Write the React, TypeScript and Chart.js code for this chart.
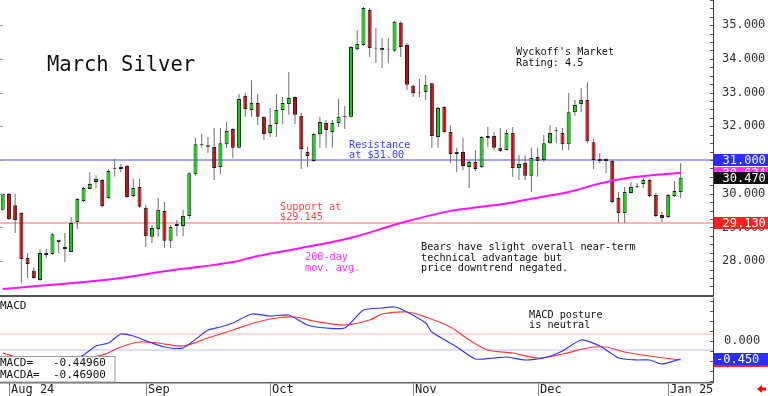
import React, { useEffect, useRef } from 'react';
import { Chart, registerables } from 'chart.js';

Chart.register(...registerables);

// ---------------- data ----------------
const candleOpen = [29.52, 29.99, 29.66, 29.43, 28.09, 27.71, 27.44, 28.24, 28.21, 28.57,
  28.42, 28.27, 29.16, 29.78, 30.14, 30.35, 30.41, 29.87, 30.76, 30.73,
  30.82, 29.93, 30.20, 29.58, 28.72, 28.95, 29.49, 28.60, 29.04, 29.04,
  29.34, 30.58, 31.47, 31.44, 31.39, 30.79, 31.47, 31.92, 31.36, 32.90,
  32.48, 32.69, 32.28, 31.80, 32.07, 32.48, 32.66, 32.87, 32.31, 31.24,
  30.97, 31.77, 32.10, 31.83, 32.10, 32.30, 32.28, 34.29, 34.41, 35.45,
  34.33, 34.26, 34.28, 34.24, 35.07, 34.41, 33.20, 32.98, 33.02, 33.28,
  31.68, 32.57, 31.83, 31.18, 31.24, 30.79, 30.94, 30.79, 31.65, 31.71,
  31.36, 31.30, 31.80, 30.76, 30.91, 30.53, 31.09, 31.00, 31.50, 31.85,
  31.80, 31.47, 32.42, 32.66, 32.78, 31.53, 30.97, 31.03, 30.97, 29.87,
  29.43, 30.02, 30.19, 30.29, 30.41, 29.96, 29.37, 29.31, 29.93, 30.05];
const candleHigh = [30.00, 30.02, 29.99, 29.45, 28.24, 27.82, 28.36, 28.36, 28.83, 28.63,
  28.83, 29.31, 29.87, 30.20, 30.64, 30.55, 30.43, 30.73, 31.03, 30.88,
  30.85, 30.44, 30.44, 29.67, 29.07, 29.87, 29.75, 29.07, 29.22, 29.52,
  30.64, 31.65, 31.77, 31.68, 31.95, 31.95, 32.13, 31.94, 32.96, 32.99,
  33.37, 32.96, 32.30, 32.54, 32.96, 32.87, 33.61, 32.89, 32.40, 31.39,
  31.80, 32.28, 32.19, 32.19, 32.81, 32.60, 34.38, 34.86, 35.54, 35.51,
  34.92, 34.62, 34.62, 35.13, 35.12, 34.47, 33.23, 33.40, 33.52, 33.30,
  32.57, 32.60, 32.04, 31.36, 31.65, 31.00, 31.30, 31.71, 31.98, 31.83,
  31.95, 31.89, 31.98, 31.15, 31.15, 31.36, 31.36, 31.74, 32.04, 31.98,
  31.95, 32.99, 32.78, 33.14, 33.31, 31.62, 31.21, 31.05, 31.00, 30.05,
  30.20, 30.35, 30.32, 30.47, 30.44, 30.02, 29.46, 29.99, 30.38, 30.91];
const candleLow = [29.50, 29.22, 28.83, 27.35, 27.50, 27.48, 27.41, 28.09, 28.18, 28.24,
  27.97, 28.27, 28.95, 29.75, 30.14, 30.17, 29.60, 29.85, 30.50, 30.64,
  29.87, 29.90, 29.58, 28.42, 28.54, 28.72, 28.39, 28.39, 28.74, 28.74,
  29.25, 30.55, 31.36, 31.21, 30.41, 30.58, 31.36, 31.06, 31.34, 32.28,
  32.28, 32.04, 31.59, 31.68, 31.68, 32.07, 32.34, 32.07, 30.73, 30.79,
  30.94, 31.36, 31.36, 31.36, 31.98, 31.92, 32.26, 34.26, 34.39, 34.06,
  33.88, 33.73, 33.88, 34.21, 34.06, 33.08, 32.87, 32.87, 32.78, 31.36,
  31.36, 31.80, 30.91, 30.64, 30.70, 30.17, 30.67, 30.76, 31.39, 31.30,
  31.24, 31.28, 30.50, 30.41, 30.41, 30.05, 30.50, 30.94, 31.47, 31.50,
  31.30, 31.30, 32.31, 32.42, 31.50, 30.73, 30.91, 30.61, 29.72, 29.13,
  29.13, 30.00, 30.17, 30.17, 29.90, 29.31, 29.16, 29.28, 29.90, 29.87];
const candleClose = [29.99, 29.25, 29.22, 28.06, 27.91, 27.50, 28.24, 28.18, 28.80, 28.63,
  28.36, 29.13, 29.84, 30.17, 30.29, 30.44, 29.63, 30.67, 30.74, 30.79,
  29.90, 30.17, 29.61, 28.74, 28.98, 29.52, 28.60, 29.01, 29.10, 29.34,
  30.61, 31.47, 31.44, 31.39, 30.76, 31.50, 31.86, 31.36, 32.81, 32.51,
  32.69, 32.28, 31.77, 32.04, 32.48, 32.69, 32.84, 32.34, 31.33, 31.12,
  31.77, 32.13, 31.89, 32.10, 32.28, 32.27, 34.35, 34.44, 35.51, 34.32,
  34.31, 34.32, 34.30, 35.10, 34.35, 33.23, 32.99, 33.00, 33.23, 31.71,
  32.54, 31.83, 31.18, 31.24, 30.82, 30.94, 30.73, 31.68, 31.71, 31.36,
  31.27, 31.80, 30.76, 30.88, 30.53, 31.06, 30.97, 31.50, 31.80, 31.88,
  31.47, 32.42, 32.63, 32.78, 31.56, 31.00, 31.03, 30.97, 29.75, 29.43,
  30.05, 30.20, 30.22, 30.41, 29.93, 29.34, 29.28, 29.96, 30.08, 30.47];

const resistanceLevel = 31.0;
const supportLevel = 29.13;

const maIdx = [0, 5, 10, 16, 21, 26, 32, 37, 41, 48, 56, 64, 72, 77, 82, 85, 91, 96, 101, 109];
const maVal = [27.17, 27.25, 27.33, 27.43, 27.55, 27.7, 27.84, 27.97, 28.15, 28.39, 28.69, 29.13, 29.49, 29.61, 29.74, 29.85, 30.05, 30.3, 30.48, 30.62];

const macdIdx = [0, 8, 13, 15, 17, 19, 21, 24, 26, 29, 33, 35, 37, 40, 43, 46, 49, 52, 55, 58, 61, 63, 65, 68, 69, 73, 76, 79, 81, 84, 87, 90, 93, 96, 99, 102, 104, 106, 109];
const macdVal = [-0.63, -0.72, -0.35, -0.125, -0.05, 0.175, 0.125, -0.05, -0.15, -0.175, 0.275, 0.35, 0.45, 0.675, 0.625, 0.65, 0.4, 0.325, 0.325, 0.775, 0.825, 0.85, 0.725, 0.45, 0.225, -0.15, -0.45, -0.425, -0.4, -0.475, -0.425, -0.25, 0.025, -0.125, -0.425, -0.475, -0.475, -0.575, -0.45];
const sigIdx = [0, 4, 9, 16, 19, 22, 25, 29, 33, 37, 41, 44, 47, 50, 55, 59, 61, 65, 68, 72, 75, 78, 82, 86, 90, 94, 97, 100, 104, 109];
const sigVal = [-0.3, -0.475, -0.525, -0.35, -0.15, -0.025, -0.05, -0.125, 0.075, 0.275, 0.475, 0.575, 0.6, 0.5, 0.4, 0.525, 0.675, 0.725, 0.6, 0.35, 0.025, -0.225, -0.3, -0.425, -0.325, -0.175, -0.15, -0.275, -0.375, -0.475];
const macdRefHigh = 0.175;
const macdRefLow = -0.225;

const priceTicks = [28, 29, 30, 31, 32, 33, 34, 35];
const macdTicks = [0];
const monthIdx = [1, 23, 43, 66, 86, 107];
const monthLabels = ['Aug 24', 'Sep', 'Oct', 'Nov', 'Dec', 'Jan 25'];

const lastClose = 30.47;
const lastMA = 30.624;
const macdLast = -0.4496;
const macdaLast = -0.469;

// ---------------- layout ----------------
const X_MIN = -0.434;
const X_MAX = 114.2;
const MONO = '"DejaVu Sans Mono", monospace';

function txt(ctx: CanvasRenderingContext2D, s: string, x: number, y: number, size: number, color: string) {
  ctx.font = `${size}px ${MONO}`;
  ctx.fillStyle = color;
  ctx.textAlign = 'left';
  ctx.textBaseline = 'alphabetic';
  ctx.fillText(s, x, y);
}

function valueBox(ctx: CanvasRenderingContext2D, py: number, label: string, bg: string, tx: number, hExtra = 0) {
  ctx.fillStyle = bg;
  ctx.fillRect(714, Math.round(py) - 6, 54, 12 + hExtra);
  ctx.font = `12px ${MONO}`;
  ctx.fillStyle = '#ffffff';
  ctx.textAlign = 'left';
  ctx.textBaseline = 'middle';
  ctx.fillText(label, tx, Math.round(py) + 0.5);
}

function fixAxis(s: any) {
  s.width = 55;
  s.paddingTop = 0;
  s.paddingBottom = 0;
  s.paddingLeft = 0;
  s.paddingRight = 0;
}

const mainPlugin = {
  id: 'mainDecor',
  afterDraw(chart: any) {
    const { ctx, chartArea } = chart;
    const y = chart.scales.y;
    ctx.save();
    // left edge ticks
    ctx.strokeStyle = '#999';
    ctx.lineWidth = 1;
    ctx.beginPath();
    for (const v of priceTicks) {
      const py = Math.round(y.getPixelForValue(v)) + 0.5;
      ctx.moveTo(0, py);
      ctx.lineTo(3, py);
    }
    ctx.stroke();
    // right axis minor ticks
    ctx.strokeStyle = '#555';
    ctx.beginPath();
    for (let k = 108; k <= 143; k++) {
      const v = k / 4;
      const py = Math.round(y.getPixelForValue(v)) + 0.5;
      ctx.moveTo(chartArea.right - 3, py);
      ctx.lineTo(chartArea.right, py);
    }
    ctx.stroke();

    // annotations
    txt(ctx, 'March Silver', 47, 70.5, 20.5, '#111');
    txt(ctx, "Wyckoff's Market", 516, 55, 10.2, '#111');
    txt(ctx, 'Rating: 4.5', 516, 65.5, 10.2, '#111');
    txt(ctx, 'Resistance', 349, 147.5, 10.2, '#3a3aff');
    txt(ctx, 'at $31.00', 349, 157.5, 10.2, '#3a3aff');
    txt(ctx, 'Support at', 280, 210, 10.2, '#ff4040');
    txt(ctx, '$29.145', 280, 220, 10.2, '#ff4040');
    txt(ctx, '200-day', 305, 260, 10.2, '#ff30ff');
    txt(ctx, 'mov. avg.', 305, 270.5, 10.2, '#ff30ff');
    txt(ctx, 'Bears have slight overall near-term', 421, 250, 10.2, '#111');
    txt(ctx, 'technical advantage but', 421, 260.5, 10.2, '#111');
    txt(ctx, 'price downtrend negated.', 421, 271, 10.2, '#111');

    // separator
    ctx.fillStyle = '#505050';
    ctx.fillRect(0, chartArea.bottom - 1, chartArea.right + 1, 2);

    // value boxes on axis
    valueBox(ctx, y.getPixelForValue(lastMA), lastMA.toFixed(3), '#ff33ff', 722.5);
    valueBox(ctx, y.getPixelForValue(lastClose), lastClose.toFixed(3), '#111111', 722.5);
    valueBox(ctx, y.getPixelForValue(resistanceLevel), resistanceLevel.toFixed(3), '#2d2dff', 722.5);
    valueBox(ctx, y.getPixelForValue(supportLevel), supportLevel.toFixed(3), '#ff2020', 722.5);
    ctx.restore();
  },
};

const macdPlugin = {
  id: 'macdDecor',
  afterDraw(chart: any) {
    const { ctx, chartArea } = chart;
    const y = chart.scales.y;
    const x = chart.scales.x;
    ctx.save();
    // right axis minor ticks
    ctx.strokeStyle = '#555';
    ctx.lineWidth = 1;
    ctx.beginPath();
    for (let k = -4; k <= 4; k++) {
      const py = Math.round(y.getPixelForValue(k / 4)) + 0.5;
      ctx.moveTo(chartArea.right - 3, py);
      ctx.lineTo(chartArea.right, py);
    }
    ctx.stroke();

    // bottom line
    ctx.fillStyle = '#666';
    ctx.fillRect(0, chartArea.bottom, chartArea.right + 1, 1.5);

    // labels
    txt(ctx, 'MACD', 0, 11.5, 11, '#111');
    txt(ctx, 'MACD posture', 529, 21, 10.2, '#111');
    txt(ctx, 'is neutral', 529, 31, 10.2, '#111');

    // value box
    ctx.fillStyle = '#ffffff';
    ctx.fillRect(0, 59, 115, chartArea.bottom - 59);
    ctx.strokeStyle = '#9a9a9a';
    ctx.strokeRect(-0.5, 59.5, 115.5, chartArea.bottom - 59.5);
    txt(ctx, 'MACD=   ' + macdLast.toFixed(5), 0, 69, 11, '#111');
    txt(ctx, 'MACDA=  ' + macdaLast.toFixed(5), 0, 80.5, 11, '#111');

    // right value boxes
    valueBox(ctx, y.getPixelForValue(macdaLast), macdaLast.toFixed(3), '#ff2020', 716, 1);
    valueBox(ctx, y.getPixelForValue(macdLast), macdLast.toFixed(3), '#2d2dff', 716);

    // date ticks and labels
    ctx.strokeStyle = '#888';
    ctx.beginPath();
    monthIdx.forEach((m) => {
      const px = Math.round(x.getPixelForValue(m)) + 0.5;
      ctx.moveTo(px, chartArea.bottom + 1);
      ctx.lineTo(px, chart.height);
    });
    ctx.stroke();
    monthIdx.forEach((m, i) => {
      const px = Math.round(x.getPixelForValue(m)) + 0.5;
      txt(ctx, monthLabels[i], px + 1.5, 96, 12, '#222');
    });

    // red arrow
    ctx.fillStyle = '#ff0000';
    ctx.beginPath();
    ctx.moveTo(757, 92);
    ctx.lineTo(762, 88);
    ctx.lineTo(762, 96);
    ctx.closePath();
    ctx.fill();
    ctx.fillRect(761, 90.5, 5, 3);
    ctx.restore();
  },
};

function mainConfig(): any {
  const idx = candleOpen.map((_, i) => i);
  const up = idx.map((i) => candleClose[i] >= candleOpen[i]);
  return {
    type: 'bar',
    data: {
      datasets: [
        {
          type: 'line',
          data: maIdx.map((xv, i) => ({ x: xv, y: maVal[i] })),
          borderColor: '#ff10ff',
          borderWidth: 2,
          pointRadius: 0,
          tension: 0.35,
          order: 0,
        },
        {
          type: 'bar',
          data: idx.map((i) => ({ x: i, y: [candleOpen[i], candleClose[i]] })),
          backgroundColor: up.map((u) => (u ? '#00dc00' : '#dc0000')),
          borderColor: '#1e1e1e',
          borderWidth: 1,
          borderSkipped: false,
          barThickness: 4,
          grouped: false,
          inflateAmount: 0,
          order: 1,
        },
        {
          type: 'bar',
          data: idx.map((i) => ({ x: i, y: [candleLow[i], candleHigh[i]] })),
          backgroundColor: '#6e6e6e',
          borderWidth: 0,
          barThickness: 1,
          grouped: false,
          inflateAmount: 0,
          order: 2,
        },
        {
          type: 'line',
          data: [{ x: X_MIN, y: resistanceLevel }, { x: X_MAX, y: resistanceLevel }],
          borderColor: '#8585ff',
          borderWidth: 1.5,
          pointRadius: 0,
          order: 3,
        },
        {
          type: 'line',
          data: [{ x: X_MIN, y: supportLevel }, { x: X_MAX, y: supportLevel }],
          borderColor: '#ff9a9a',
          borderWidth: 1.5,
          pointRadius: 0,
          order: 3,
        },
      ],
    },
    options: {
      animation: false,
      responsive: false,
      devicePixelRatio: 1,
      layout: { padding: { top: 0, left: 0, right: 0, bottom: 1 }, autoPadding: false },
      plugins: { legend: { display: false }, tooltip: { enabled: false } },
      scales: {
        x: { type: 'linear', min: X_MIN, max: X_MAX, display: false, offset: false },
        y: {
          position: 'right',
          min: 26.964,
          max: 35.748,
          beginAtZero: false,
          afterFit: fixAxis,
          afterBuildTicks: (s: any) => { s.ticks = priceTicks.map((v) => ({ value: v })); },
          grid: { display: false, drawTicks: false },
          border: { display: true, color: '#444', width: 1 },
          ticks: {
            padding: 9,
            color: '#333',
            font: { family: MONO, size: 12 },
            callback: (v: any) => Number(v).toFixed(3),
          },
        },
      },
    },
    plugins: [mainPlugin],
  };
}

function macdConfig(): any {
  return {
    type: 'line',
    data: {
      datasets: [
        {
          data: macdIdx.map((xv, i) => ({ x: xv, y: macdVal[i] })),
          borderColor: '#3535ff',
          borderWidth: 1.2,
          pointRadius: 0,
          tension: 0.2,
          order: 0,
        },
        {
          data: sigIdx.map((xv, i) => ({ x: xv, y: sigVal[i] })),
          borderColor: '#ff3535',
          borderWidth: 1.2,
          pointRadius: 0,
          tension: 0.3,
          order: 1,
        },
        {
          data: [{ x: X_MIN, y: macdRefHigh }, { x: X_MAX, y: macdRefHigh }],
          borderColor: '#ffb4b4',
          borderWidth: 1,
          pointRadius: 0,
          order: 2,
        },
        {
          data: [{ x: X_MIN, y: macdRefLow }, { x: X_MAX, y: macdRefLow }],
          borderColor: '#bcbcff',
          borderWidth: 1,
          pointRadius: 0,
          order: 2,
        },
      ],
    },
    options: {
      animation: false,
      responsive: false,
      devicePixelRatio: 1,
      layout: { padding: { top: 1, left: 0, right: 0, bottom: 14 }, autoPadding: false },
      plugins: { legend: { display: false }, tooltip: { enabled: false } },
      scales: {
        x: { type: 'linear', min: X_MIN, max: X_MAX, display: false },
        y: {
          position: 'right',
          min: -1.025,
          max: 1.075,
          afterFit: fixAxis,
          afterBuildTicks: (s: any) => { s.ticks = macdTicks.map((v) => ({ value: v })); },
          grid: { display: false, drawTicks: false },
          border: { display: true, color: '#444', width: 1 },
          ticks: {
            padding: 11,
            color: '#333',
            font: { family: MONO, size: 12 },
            callback: (v: any) => Number(v).toFixed(3),
          },
        },
      },
    },
    plugins: [macdPlugin],
  };
}

export default function App() {
  const mainRef = useRef<HTMLCanvasElement>(null);
  const macdRef = useRef<HTMLCanvasElement>(null);
  useEffect(() => {
    const c1 = new Chart(mainRef.current as HTMLCanvasElement, mainConfig());
    const c2 = new Chart(macdRef.current as HTMLCanvasElement, macdConfig());
    return () => {
      c1.destroy();
      c2.destroy();
    };
  }, []);
  return (
    <div style={{ position: 'fixed', left: 0, top: 0, width: 768, height: 396, background: '#ffffff', overflow: 'hidden' }}>
      <canvas ref={mainRef} width={768} height={297} style={{ position: 'absolute', left: 0, top: 0, display: 'block' }} />
      <canvas ref={macdRef} width={768} height={99} style={{ position: 'absolute', left: 0, top: 297, display: 'block' }} />
    </div>
  );
}
